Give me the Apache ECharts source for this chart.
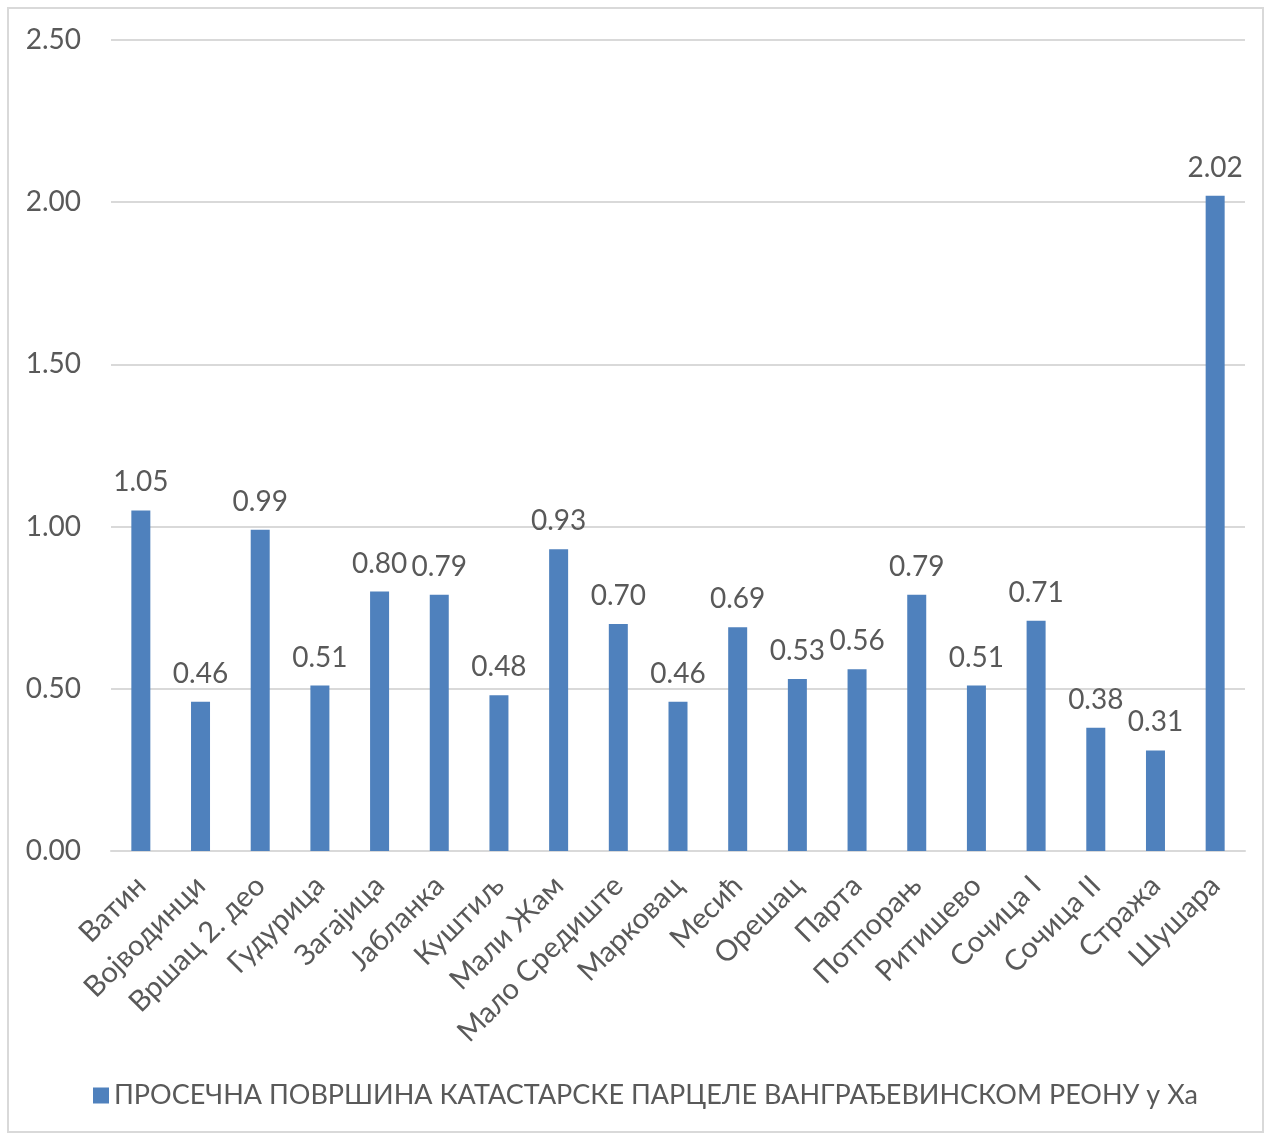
<!DOCTYPE html>
<html>
<head>
<meta charset="UTF-8">
<title>Просечна површина</title>
<script src="https://cdn.jsdelivr.net/npm/echarts@6/dist/echarts.min.js"></script>
<style>
  body { margin: 0; background: #fff; }
  #frame { position: absolute; left: 7px; top: 7px; width: 1257px; height: 1126px; border: 2px solid #d9d9d9; box-sizing: border-box; }
  #chart { position: absolute; left: 0; top: 0; width: 1271px; height: 1136px; }
</style>
</head>
<body>
<div id="frame"></div>
<div id="chart"></div>
<script>
var places = ["Ватин", "Војводинци", "Вршац 2. део", "Гудурица", "Загајица", "Јабланка", "Куштиљ",
  "Мали Жам", "Мало Средиште", "Марковац", "Месић", "Орешац", "Парта", "Потпорањ", "Ритишево",
  "Сочица I", "Сочица II", "Стража", "Шушара"];
var avgArea = [1.05, 0.46, 0.99, 0.51, 0.80, 0.79, 0.48, 0.93, 0.70, 0.46, 0.69, 0.53, 0.56, 0.79, 0.51,
  0.71, 0.38, 0.31, 2.02];
var seriesName = "ПРОСЕЧНА ПОВРШИНА КАТАСТАРСКЕ ПАРЦЕЛЕ ВАНГРАЂЕВИНСКОМ РЕОНУ у Ха";

var font = "Lato, 'Open Sans', sans-serif";
var txt = "#595959";

var chart = echarts.init(document.getElementById("chart"));
chart.setOption({
  animation: false,
  textStyle: { fontFamily: font },
  grid: { left: 111, right: 26, top: 40, bottom: 285 },
  legend: {
    data: [seriesName],
    bottom: 22,
    left: 88,
    itemWidth: 16,
    itemHeight: 16,
    itemGap: 6,
    icon: "rect",
    textStyle: { fontSize: 27, color: txt, fontFamily: font }
  },
  xAxis: {
    type: "category",
    data: places,
    axisLine: { lineStyle: { color: "#d9d9d9", width: 2 } },
    axisTick: { show: false },
    axisLabel: { rotate: 45, interval: 0, fontSize: 29, color: txt, margin: 30 }
  },
  yAxis: {
    type: "value",
    min: 0,
    max: 2.5,
    interval: 0.5,
    axisLine: { show: false },
    axisTick: { show: false },
    splitLine: { lineStyle: { color: "#d9d9d9", width: 2 } },
    axisLabel: {
      fontSize: 28, color: txt, margin: 30,
      formatter: function (v) { return v.toFixed(2); }
    }
  },
  series: [{
    name: seriesName,
    type: "bar",
    data: avgArea,
    barWidth: 19,
    itemStyle: { color: "#4f81bd" },
    label: {
      show: true,
      position: "top",
      distance: 14,
      fontSize: 28,
      color: txt,
      formatter: function (p) { return p.value.toFixed(2); }
    }
  }]
});
</script>
</body>
</html>
